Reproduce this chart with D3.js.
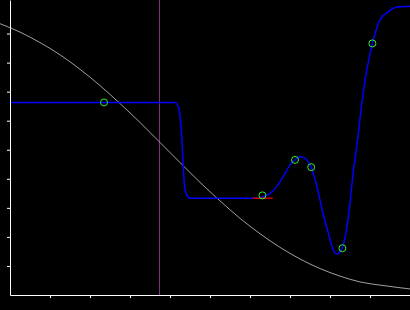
<!DOCTYPE html>
<html>
<head>
<meta charset="utf-8">
<script src="https://cdn.jsdelivr.net/npm/d3@7"></script>
<style>
  html, body { margin: 0; padding: 0; background: #000; }
  svg { display: block; }
</style>
</head>
<body>
<svg id="chart" width="410" height="310"></svg>
<script>
// ---- data ----
const xTicks = [1, 2, 3, 4, 5, 6, 7, 8, 9];
const yTicks = [1, 2, 3, 4, 5, 6, 7, 8, 9];

const grayX = [-0.25, 0.25, 0.75, 1.25, 1.75, 2.25, 2.75, 3.25, 3.75, 4.25, 4.75, 5.25, 5.75, 6.25, 6.75, 7.25, 7.75, 8.25, 8.75, 9.25, 9.75, 10];
const grayY = [9.34, 9.05, 8.69, 8.27, 7.77, 7.21, 6.59, 5.94, 5.25, 4.56, 3.88, 3.24, 2.64, 2.11, 1.64, 1.24, 0.91, 0.65, 0.45, 0.34, 0.25, 0.21];

const blueX = [0, 4.125, 4.19, 4.25, 4.29, 4.31, 4.33, 4.36, 4.42, 4.5, 6.125, 6.30, 6.5, 6.67, 6.83, 7.0, 7.125, 7.25, 7.375, 7.45, 7.53, 7.625, 7.71, 7.83, 7.96, 8.04, 8.10, 8.17, 8.24, 8.31, 8.42, 8.5, 8.58, 8.67, 8.79, 8.92, 9.06, 9.25, 9.42, 9.67, 10];
const blueY = [6.63, 6.63, 6.54, 6.20, 5.51, 4.99, 4.48, 3.79, 3.44, 3.33, 3.33, 3.37, 3.50, 3.73, 4.07, 4.48, 4.65, 4.76, 4.71, 4.60, 4.40, 3.99, 3.51, 2.79, 2.12, 1.72, 1.50, 1.41, 1.46, 1.64, 2.31, 3.17, 4.23, 5.13, 6.54, 7.75, 8.66, 9.47, 9.71, 9.91, 9.94];

const pointX = [2.35, 6.31, 7.125, 7.53, 8.31, 9.06];
const pointY = [6.63, 3.43, 4.65, 4.40, 1.61, 8.66];

const tangentX = [6.07, 6.57];
const tangentY = [3.33, 3.33];

const markerX = 3.73;

// ---- drawing ----
const svg = d3.select("#chart");
const x = d3.scaleLinear().domain([0, 10]).range([10, 410]);
const y = d3.scaleLinear().domain([0, 10.155]).range([295, 0]);

// vertical marker (snapped to a pixel column)
const mx = Math.floor(x(markerX)) + 0.5;
svg.append("line")
  .attr("x1", mx).attr("x2", mx)
  .attr("y1", y(10.155)).attr("y2", y(0))
  .attr("stroke", "#7f2f7f").attr("stroke-width", 1);

// gray curve
svg.append("path")
  .datum(d3.zip(grayX, grayY))
  .attr("d", d3.line().x(d => x(d[0])).y(d => y(d[1])).curve(d3.curveMonotoneX))
  .attr("fill", "none").attr("stroke", "#a0a0a0").attr("stroke-width", 1);

// blue curve
svg.append("path")
  .datum(d3.zip(blueX, blueY))
  .attr("d", d3.line().x(d => x(d[0])).y(d => y(d[1])).curve(d3.curveMonotoneX))
  .attr("fill", "none").attr("stroke", "#0000ff").attr("stroke-width", 1.5);

// red tangent segment
svg.append("path")
  .datum(d3.zip(tangentX, tangentY))
  .attr("d", d3.line().x(d => x(d[0])).y(d => y(d[1])))
  .attr("fill", "none").attr("stroke", "#cc0000").attr("stroke-width", 1.5);

// green circles
svg.selectAll("circle.pt")
  .data(d3.zip(pointX, pointY))
  .join("circle")
  .attr("class", "pt")
  .attr("cx", d => x(d[0])).attr("cy", d => y(d[1]))
  .attr("r", 3.5)
  .attr("fill", "none").attr("stroke", "#33ee33").attr("stroke-width", 1);

// axes
svg.append("g")
  .attr("transform", "translate(0,295)")
  .call(d3.axisBottom(x).tickValues(xTicks).tickSize(3).tickSizeOuter(0).tickFormat(""));
svg.append("g")
  .attr("transform", "translate(10,0)")
  .call(d3.axisLeft(y).tickValues(yTicks).tickSize(3).tickSizeOuter(0).tickFormat(""));
svg.selectAll(".domain, .tick line").attr("stroke", "#fff").attr("stroke-width", 1);
</script>
</body>
</html>
